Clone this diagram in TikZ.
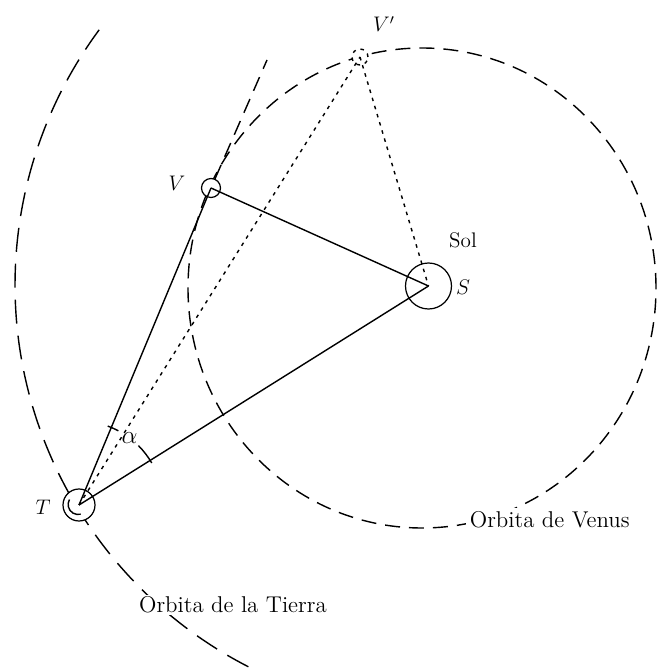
\documentclass[tikz,border=0pt]{standalone}
\usepackage{tikz}
\usetikzlibrary{backgrounds}

\begin{document}
\begin{tikzpicture}[font=\large, x=1cm, y=1cm,
    planet/.style={draw, circle, fill=white, inner sep=0pt, line width=0.7pt},
    orbitline/.style={line width=0.8pt, dash pattern=on 0.3cm off 0.18cm},
    sightline/.style={line width=0.8pt},
    dotline/.style={line width=0.8pt, dash pattern=on 0.07cm off 0.1cm},
    orbitlabel/.style={anchor=west, fill=white, font=\fontsize{13}{15}\selectfont}]
\useasboundingbox (0,0) rectangle (13.14,13.38);

% Sol, Venus, Tierra
\node[planet, minimum size=0.92cm] (S) at (8.57,7.66) {};
\node[planet, minimum size=0.38cm] (V) at (4.22,9.62) {};
\node[planet, dotline, minimum size=0.32cm] (Vp) at (7.20,12.24) {};
\node[planet, minimum size=0.64cm] (T) at (1.58,3.28) {};
\coordinate (Vext) at (5.34,12.18);

% orbitas
\begin{scope}[on background layer]
\draw[orbitline] (8.44,7.62) ellipse [x radius=4.68, y radius=4.80];
\draw[orbitline, dash pattern=on 0.48cm off 0.24cm] (8.88,7.68) ++(143.5:8.58)
    arc[start angle=143.5, end angle=243.5, radius=8.58];
\end{scope}

\draw[sightline] (T.center) -- (V.center);
\draw[sightline] (V.center) -- (S.center);
\draw[sightline] (T.center) -- (S.center);
\draw[orbitline] (V) -- (Vext);
\draw[dotline] (T.center) -- (Vp.center);
\draw[dotline] (Vp.center) -- (S.center);

% angulo alpha
\draw[sightline] ([shift={(30:1.68)}]T.center) arc[start angle=30, end angle=45, radius=1.68];
\draw[sightline] ([shift={(62:1.68)}]T.center) arc[start angle=62, end angle=70, radius=1.68];
\node[font=\Large] (alpha) at ([shift={(53:1.68)}]T.center) {$\alpha$};
\draw[sightline] ([shift={(150:0.22)}]T.center) arc[start angle=150, end angle=285, radius=0.2];

% rotulos
\node (Vlab) at (3.54,9.72) {$V$};
\node (Vplab) at (7.68,12.9) {$V'$};
\node (Sollab) at (9.26,8.58) {Sol};
\node (Slab) at (9.26,7.64) {$S$};
\node (Tlab) at (0.86,3.24) {$T$};
\node[orbitlabel, inner sep=2pt] (venus) at (9.32,2.98) {Orbita de Venus};
\node[orbitlabel, inner sep=1pt] (tierra) at (2.74,1.28) {Orbita de la Tierra};
\end{tikzpicture}
\end{document}
